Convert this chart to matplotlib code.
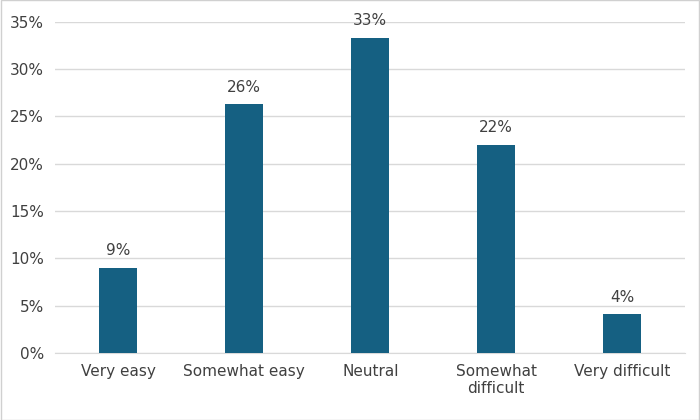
import matplotlib
matplotlib.use("Agg")
import matplotlib.pyplot as plt
from matplotlib.ticker import FuncFormatter

categories = ["Very easy", "Somewhat easy", "Neutral", "Somewhat\ndifficult", "Very difficult"]
values = [9.0, 26.3, 33.3, 22.0, 4.1]
labels = ["9%", "26%", "33%", "22%", "4%"]

fig = plt.figure(figsize=(7, 4.2), dpi=100)
ax = fig.add_axes([0.079, 0.16, 0.9, 0.788])
fig.patches.append(plt.Rectangle((0.001, 0.001), 0.998, 0.998, transform=fig.transFigure,
                                 fill=False, edgecolor="#d0d0d0", linewidth=1))
x = range(len(categories))
ax.bar(x, values, width=0.3, color="#156082", zorder=3)
for xi, v, l in zip(x, values, labels):
    ax.text(xi, v + 1.0, l, ha="center", va="bottom", fontsize=11, color="#404040")
ax.set_ylim(0, 35)
ax.set_xlim(-0.5, len(categories) - 0.5)
ax.set_yticks(range(0, 36, 5))
ax.yaxis.set_major_formatter(FuncFormatter(lambda v, p: f"{int(v)}%"))
ax.grid(axis="y", color="#d9d9d9", linewidth=1, zorder=0)
for s in ["top", "right", "left"]:
    ax.spines[s].set_visible(False)
ax.spines["bottom"].set_color("#d9d9d9")
ax.set_xticks(list(x))
ax.set_xticklabels(categories)
ax.tick_params(axis="both", length=0, labelsize=11, labelcolor="#404040", pad=8)
fig.savefig("out.png")
